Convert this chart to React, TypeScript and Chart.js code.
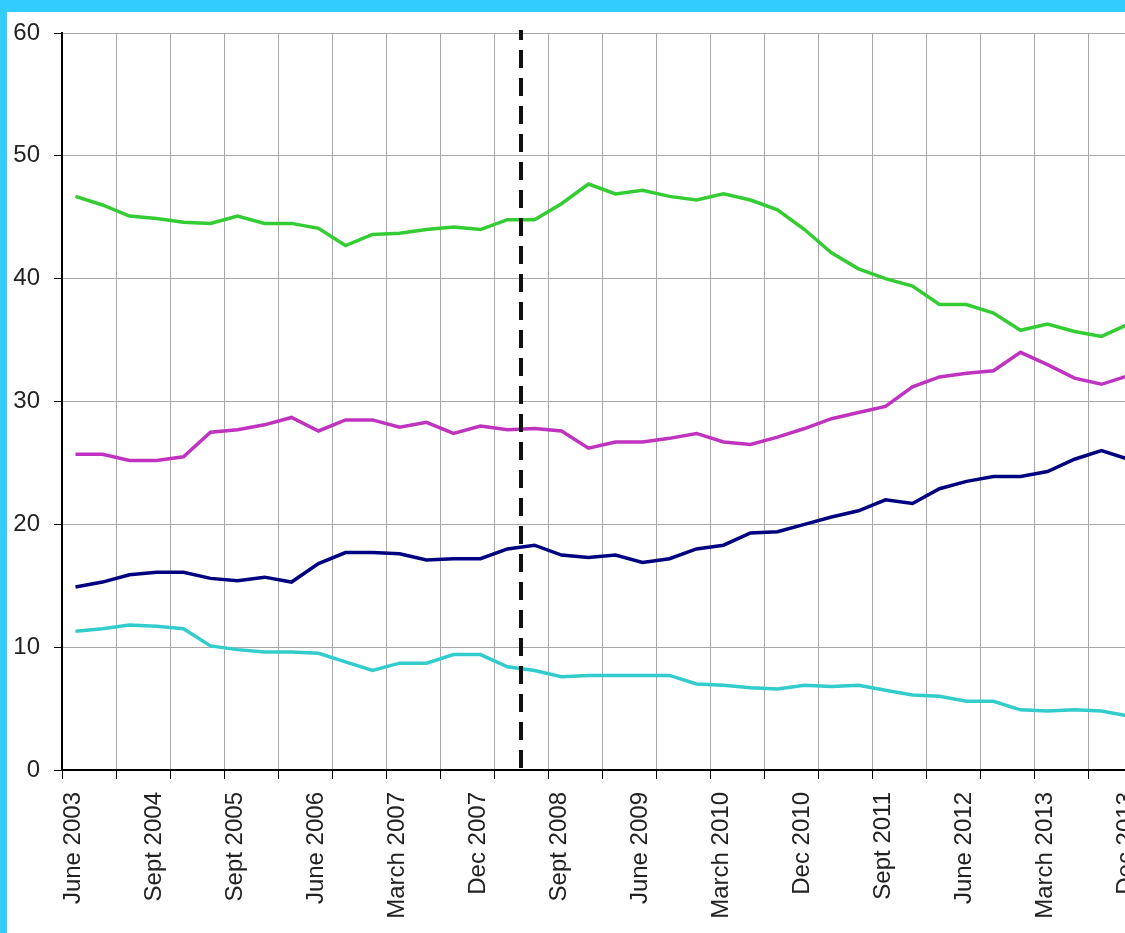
import { useEffect, useRef } from "react";
import { Chart, registerables } from "chart.js";

Chart.register(...registerables);

// quarterly categories (only every third one is labelled on the axis)
const quarters = [
  "June 2003", "Dec 2003", "June 2004", "Sept 2004", "Dec 2004", "March 2005",
  "Sept 2005", "Dec 2005", "March 2006", "June 2006", "Sept 2006", "Dec 2006",
  "March 2007", "June 2007", "Sept 2007", "Dec 2007", "March 2008", "June 2008",
  "Sept 2008", "Dec 2008", "March 2009", "June 2009", "Sept 2009", "Dec 2009",
  "March 2010", "June 2010", "Sept 2010", "Dec 2010", "March 2011", "June 2011",
  "Sept 2011", "Dec 2011", "March 2012", "June 2012", "Sept 2012", "Dec 2012",
  "March 2013", "June 2013", "Sept 2013", "Dec 2013",
];

const greenSeries = [
  46.7, 46.0, 45.1, 44.9, 44.6, 44.5, 45.1, 44.5, 44.5, 44.1, 42.7, 43.6, 43.7,
  44.0, 44.2, 44.0, 44.8, 44.8, 46.1, 47.7, 46.9, 47.2, 46.7, 46.4, 46.9, 46.4,
  45.6, 44.0, 42.1, 40.8, 40.0, 39.4, 37.9, 37.9, 37.2, 35.8, 36.3, 35.7, 35.3,
  36.3,
];

const magentaSeries = [
  25.7, 25.7, 25.2, 25.2, 25.5, 27.5, 27.7, 28.1, 28.7, 27.6, 28.5, 28.5, 27.9,
  28.3, 27.4, 28.0, 27.7, 27.8, 27.6, 26.2, 26.7, 26.7, 27.0, 27.4, 26.7, 26.5,
  27.1, 27.8, 28.6, 29.1, 29.6, 31.2, 32.0, 32.3, 32.5, 34.0, 33.0, 31.9, 31.4,
  32.1,
];

const navySeries = [
  14.9, 15.3, 15.9, 16.1, 16.1, 15.6, 15.4, 15.7, 15.3, 16.8, 17.7, 17.7, 17.6,
  17.1, 17.2, 17.2, 18.0, 18.3, 17.5, 17.3, 17.5, 16.9, 17.2, 18.0, 18.3, 19.3,
  19.4, 20.0, 20.6, 21.1, 22.0, 21.7, 22.9, 23.5, 23.9, 23.9, 24.3, 25.3, 26.0,
  25.3,
];

const turquoiseSeries = [
  11.3, 11.5, 11.8, 11.7, 11.5, 10.1, 9.8, 9.6, 9.6, 9.5, 8.8, 8.1, 8.7,
  8.7, 9.4, 9.4, 8.4, 8.1, 7.6, 7.7, 7.7, 7.7, 7.7, 7.0, 6.9, 6.7,
  6.6, 6.9, 6.8, 6.9, 6.5, 6.1, 6.0, 5.6, 5.6, 4.9, 4.8, 4.9, 4.8,
  4.4,
];

const yTicks = [0, 10, 20, 30, 40, 50, 60];

// dashed marker sits between this quarter and the next
const markerAfter = "March 2008";

const gridGray = "#a8a8a8";
const fontFamily = "'Liberation Sans', Arial, sans-serif";

const dashedMarker = {
  id: "dashedMarker",
  afterDatasetsDraw(chart: Chart) {
    const xScale = chart.scales.x;
    const i = quarters.indexOf(markerAfter);
    const px = (xScale.getPixelForValue(i) + xScale.getPixelForValue(i + 1)) / 2;
    const { top, bottom } = chart.chartArea;
    const ctx = chart.ctx;
    ctx.save();
    ctx.strokeStyle = "#111";
    ctx.lineWidth = 4;
    ctx.setLineDash([18, 10]);
    ctx.lineDashOffset = 8;
    ctx.beginPath();
    ctx.moveTo(px, top - 3);
    ctx.lineTo(px, bottom - 2);
    ctx.stroke();
    ctx.restore();
  },
};

export default function App() {
  const canvasRef = useRef<HTMLCanvasElement>(null);

  useEffect(() => {
    const canvas = canvasRef.current;
    if (!canvas) return;

    const line = (data: number[], color: string) => ({
      data,
      borderColor: color,
      backgroundColor: color,
      borderWidth: 3.5,
      pointRadius: 0,
      tension: 0,
      fill: false,
    });

    const chart = new Chart(canvas, {
      type: "line",
      data: {
        labels: quarters,
        datasets: [
          line(greenSeries, "#33CC33"),
          line(magentaSeries, "#C033C0"),
          line(navySeries, "#000080"),
          line(turquoiseSeries, "#33CCCC"),
        ],
      },
      options: {
        animation: false,
        responsive: false,
        maintainAspectRatio: false,
        layout: { padding: { top: 21, right: 40, left: 0, bottom: 0 } },
        plugins: {
          legend: { display: false },
          tooltip: { enabled: false },
        },
        scales: {
          x: {
            type: "category",
            offset: true,
            grid: {
              offset: true,
              lineWidth: 1,
              tickLength: 9,
              color: (c: any) =>
                c.index === undefined || (c.index % 2 === 0 && c.index !== 0)
                  ? gridGray
                  : "transparent",
              tickColor: (c: any) =>
                c.index === undefined || c.index % 2 === 0 ? "#000" : "transparent",
            },
            border: { color: "#000", width: 2 },
            ticks: {
              autoSkip: false,
              minRotation: 90,
              maxRotation: 90,
              padding: 13,
              labelOffset: -2,
              color: "#222",
              font: { family: fontFamily, size: 24 },
              callback: (_v: any, i: number) => (i % 3 === 0 ? quarters[i] : ""),
            },
            afterFit: (s: any) => {
              s.height = 163;
              s.paddingLeft = 0;
              s.paddingRight = 0;
            },
          },
          y: {
            min: yTicks[0],
            max: yTicks[yTicks.length - 1],
            afterBuildTicks: (s: any) => {
              s.ticks = yTicks.map((v) => ({ value: v }));
            },
            grid: {
              lineWidth: 1,
              tickLength: 8,
              color: (c: any) => (c.tick && c.tick.value === 0 ? "transparent" : gridGray),
              tickColor: "#000",
            },
            border: { color: "#000", width: 2 },
            ticks: {
              padding: 14,
              color: "#222",
              font: { family: fontFamily, size: 24 },
            },
            afterFit: (s: any) => {
              s.width = 55;
              s.paddingTop = 0;
              s.paddingBottom = 0;
            },
          },
        },
      },
      plugins: [dashedMarker],
    });

    return () => chart.destroy();
  }, []);

  return (
    <div
      style={{
        position: "fixed",
        left: 0,
        top: 0,
        width: 1125,
        height: 933,
        background: "#33CCFF",
        overflow: "hidden",
      }}
    >
      <div
        style={{
          position: "absolute",
          left: 7,
          top: 12,
          right: 0,
          bottom: 0,
          background: "#fff",
          overflow: "hidden",
        }}
      >
        <canvas
          ref={canvasRef}
          width={1175}
          height={921}
          style={{ width: 1175, height: 921, display: "block" }}
        />
      </div>
    </div>
  );
}
